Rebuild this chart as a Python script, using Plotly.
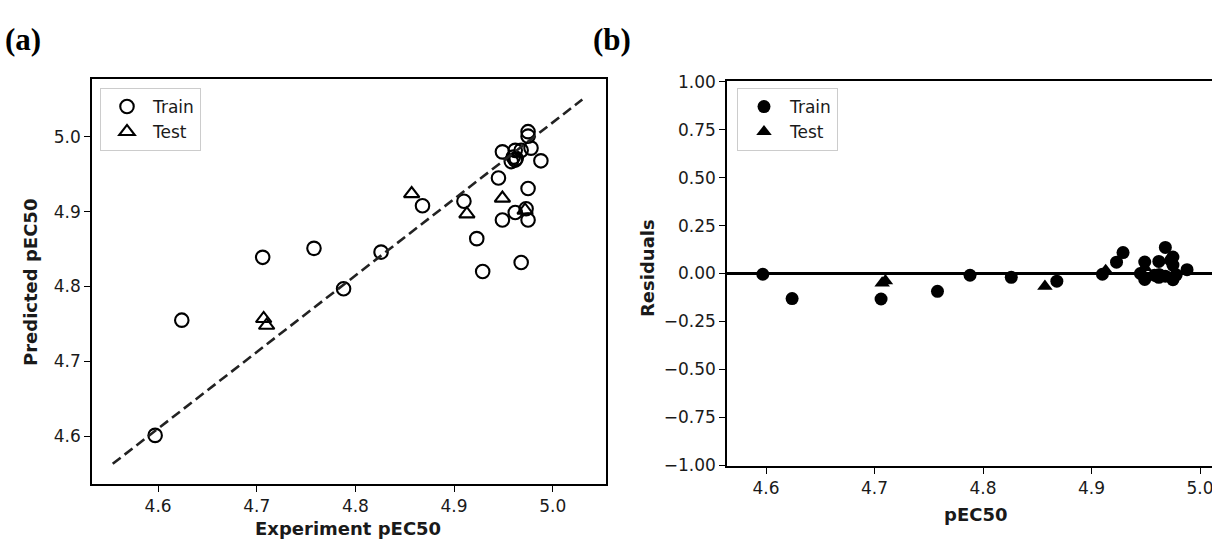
import numpy as np
import plotly.graph_objects as go

W, H = 1212, 539

# ---------------- data ----------------
train_exp = [4.597, 4.624, 4.706, 4.758, 4.788, 4.826, 4.868, 4.910, 4.923, 4.929,
             4.945, 4.949, 4.949, 4.962, 4.973, 4.975, 4.975, 4.968, 4.988, 4.978,
             4.975, 4.975, 4.962, 4.968, 4.958, 4.962, 4.963, 4.960]
train_pred = [4.601, 4.755, 4.839, 4.851, 4.797, 4.846, 4.908, 4.914, 4.864, 4.820,
              4.945, 4.980, 4.889, 4.899, 4.904, 4.889, 4.931, 4.832, 4.968, 4.985,
              5.007, 5.001, 4.982, 4.982, 4.967, 4.969, 4.971, 4.973]
test_exp = [4.707, 4.710, 4.857, 4.913, 4.949, 4.972]
test_pred = [4.757, 4.748, 4.924, 4.897, 4.918, 4.902]

fit_x = [4.554, 5.030]
fit_y = [4.563, 5.050]

# residuals = experiment - predicted
train_res = (np.array(train_exp) - np.array(train_pred)).round(3).tolist()
test_res = (np.array(test_exp) - np.array(test_pred)).round(3).tolist()

left_ticks = [4.6, 4.7, 4.8, 4.9, 5.0]
res_ticks = [-1.0, -0.75, -0.5, -0.25, 0.0, 0.25, 0.5, 0.75, 1.0]


def fx(p):
    return p / W


def fy(p):
    return 1 - p / H


FONT = "DejaVu Sans"
TXT = "#1a1a1a"

fig = go.Figure()

# ---- panel (a)
fig.add_trace(go.Scatter(
    x=train_exp, y=train_pred, mode="markers", name="Train",
    marker=dict(symbol="circle-open", size=13.5, color="black", line=dict(width=2.1)),
    xaxis="x", yaxis="y", legend="legend"))
fig.add_trace(go.Scatter(
    x=test_exp, y=test_pred, mode="markers", name="Test",
    marker=dict(symbol="triangle-up-open", size=13.5, color="black", line=dict(width=2.1)),
    xaxis="x", yaxis="y", legend="legend"))
fig.add_trace(go.Scatter(
    x=fit_x, y=fit_y, mode="lines", showlegend=False,
    line=dict(color="#222", width=2.6, dash="10px,5px"), xaxis="x", yaxis="y"))

# ---- panel (b)
fig.add_trace(go.Scatter(
    x=train_exp, y=train_res, mode="markers", name="Train",
    marker=dict(symbol="circle", size=13, color="black"),
    xaxis="x2", yaxis="y2", legend="legend2"))
fig.add_trace(go.Scatter(
    x=test_exp, y=test_res, mode="markers", name="Test",
    marker=dict(symbol="triangle-up", size=13.5, color="black"),
    xaxis="x2", yaxis="y2", legend="legend2"))

axis_common = dict(
    showline=True, linecolor="black", linewidth=1.6,
    ticks="outside", ticklen=6, tickwidth=1.4, tickcolor="black",
    showgrid=False, zeroline=False,
    tickfont=dict(family=FONT, size=17, color=TXT),
    automargin=False, ticklabeloverflow="allow",
)

legend_common = dict(xanchor="left", yanchor="top", bgcolor="white",
                     bordercolor="#cccccc", borderwidth=1, itemwidth=42,
                     font=dict(family=FONT, size=17, color=TXT))

fig.update_layout(
    width=W, height=H,
    margin=dict(l=0, r=0, t=0, b=0),
    template="none",
    paper_bgcolor="white", plot_bgcolor="white",
    font=dict(family=FONT, size=17, color=TXT),
    xaxis=dict(domain=[fx(92), fx(606)], range=[4.533, 5.054], anchor="y",
               tickvals=left_ticks, tickformat=".1f", mirror=True, **axis_common),
    yaxis=dict(domain=[fy(484), fy(79)], range=[4.536, 5.0774], anchor="x",
               tickvals=left_ticks, tickformat=".1f", mirror=True, **axis_common),
    xaxis2=dict(domain=[fx(727), 1.0], range=[4.564, 5.011], anchor="y2",
                tickvals=left_ticks, tickformat=".1f", mirror=True, **axis_common),
    yaxis2=dict(domain=[fy(466), fy(81)], range=[-1.004, 1.004], anchor="x2",
                tickvals=res_ticks, tickformat=".2f", mirror=False, **axis_common),
    legend=dict(x=fx(100), y=fy(88), **legend_common),
    legend2=dict(x=fx(737), y=fy(88), **legend_common),
    shapes=[dict(type="line", xref="x2 domain", yref="y2", x0=0, x1=1, y0=0, y1=0,
                 line=dict(color="black", width=2.8), layer="below")],
)

ann = [
    dict(text="<b>Experiment pEC50</b>", x=fx(348), y=fy(528)),
    dict(text="<b>Predicted pEC50</b>", x=fx(30), y=fy(283), textangle=-90),
    dict(text="<b>pEC50</b>", x=fx(975), y=fy(514)),
    dict(text="<b>Residuals</b>", x=fx(647), y=fy(268), textangle=-90),
]
for a in ann:
    fig.add_annotation(xref="paper", yref="paper", showarrow=False,
                       xanchor="center", yanchor="middle",
                       font=dict(family=FONT, size=18, color=TXT), **a)

for t, xp in [("(a)", 23), ("(b)", 612)]:
    fig.add_annotation(text="<b>" + t + "</b>", xref="paper", yref="paper",
                       x=fx(xp), y=fy(40), showarrow=False,
                       xanchor="center", yanchor="middle",
                       font=dict(family="Liberation Serif", size=31, color="black"))

fig.write_html("out.html")
